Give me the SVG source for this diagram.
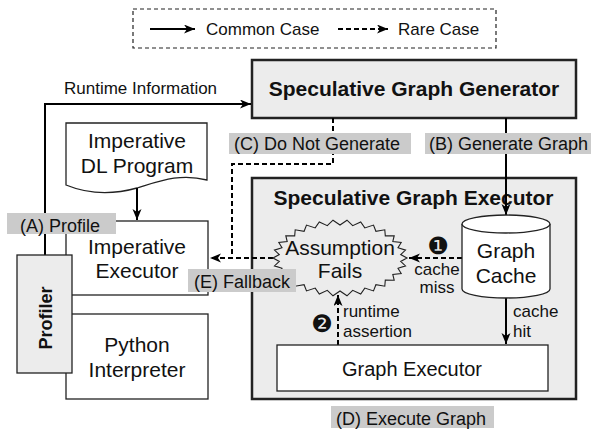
<svg xmlns="http://www.w3.org/2000/svg" width="596" height="430" viewBox="0 0 596 430">
<defs>
<marker id="ah" markerUnits="userSpaceOnUse" markerWidth="12" markerHeight="10" refX="11" refY="4.5" orient="auto">
<path d="M0,0 L11,4.5 L0,9 L3,4.5 Z" fill="#000"/>
</marker>
</defs>
<style>
text{font-family:"Liberation Sans",Arial,Helvetica,sans-serif;fill:#111}
.t21{font-size:21px}
.t20{font-size:20px}
.t18{font-size:18px}
.t17{font-size:17px}
.b{font-weight:bold}
.mid{text-anchor:middle}
.box{fill:#fff;stroke:#222;stroke-width:1.3}
.cont{fill:#ececec;stroke:#222;stroke-width:2.5}
.lbl{fill:#cbcbcb}
.solid{fill:none;stroke:#000;stroke-width:2}
.dash{fill:none;stroke:#000;stroke-width:2;stroke-dasharray:5,3}
.dig{font-family:"DejaVu Sans",sans-serif;font-size:24px}
</style>

<g id="legend">
<rect x="133" y="9" width="363" height="39" fill="#fff" stroke="#222" stroke-width="1.2" stroke-dasharray="4,3"/>
<line x1="150" y1="29" x2="195" y2="29" class="solid" marker-end="url(#ah)"/>
<text x="206" y="35" class="t17">Common Case</text>
<line x1="338" y1="29" x2="388" y2="29" class="dash" marker-end="url(#ah)"/>
<text x="398" y="35" class="t17">Rare Case</text>
</g>

<g id="generator">
<rect x="252" y="60" width="324" height="58" class="cont"/>
<text x="414" y="96" class="t21 b mid">Speculative Graph Generator</text>
</g>

<g id="spec-executor">
<rect x="252" y="178" width="324" height="221" class="cont"/>
<text x="413.5" y="205" class="t21 b mid">Speculative Graph Executor</text>
</g>

<g id="dl-program">
<path d="M66,123 H207 V180 C180,173 160,181 137,188 C112,195 88,194 66,185 Z" class="box"/>
<text x="137" y="148" class="t21 mid">Imperative</text>
<text x="137" y="173" class="t21 mid">DL Program</text>
</g>

<g id="imperative-executor">
<rect x="66" y="221" width="142" height="74" class="box"/>
<text x="137" y="254" class="t21 mid">Imperative</text>
<text x="137" y="278" class="t21 mid">Executor</text>
</g>

<g id="python-interpreter">
<rect x="66" y="314" width="142" height="85" class="box"/>
<text x="137" y="352" class="t21 mid">Python</text>
<text x="137" y="377" class="t21 mid">Interpreter</text>
</g>

<g id="connectors">
<polyline points="45,255 45,104 251,104" class="solid" marker-end="url(#ah)"/>
<line x1="137" y1="188" x2="137" y2="220" class="solid" marker-end="url(#ah)"/>
<polyline points="333,118 333,164 232,164 232,258 210,258" class="dash" marker-end="url(#ah)"/>
<line x1="273" y1="258" x2="232" y2="258" class="dash"/>
<line x1="506" y1="118" x2="506" y2="215" class="solid" marker-end="url(#ah)"/>
<line x1="462" y1="258" x2="409" y2="258" class="dash" marker-end="url(#ah)"/>
<line x1="506" y1="298" x2="506" y2="344" class="solid" marker-end="url(#ah)"/>
<line x1="338" y1="345" x2="338" y2="295" class="dash" marker-end="url(#ah)"/>
</g>

<g id="profiler">
<rect x="17" y="255" width="55" height="118" fill="#ececec" stroke="#222" stroke-width="1.3"/>
<text transform="translate(51.5,318) rotate(-90)" class="t18 b mid">Profiler</text>
</g>

<g id="assumption-fails">
<polygon fill="#ececec" stroke="#222" stroke-width="1.1" points="407,258 400.7,254.6 405.5,250.1 398,247.8 401.2,242.5 392.8,241.5 394.2,235.7 385.3,235.9 384.8,229.8 375.9,231.3 373.5,225.1 364.8,227.9 360.7,221.9 352.7,225.7 347,220.2 340,225 333,220.2 327.3,225.7 319.3,221.9 315.2,227.9 306.5,225.1 304.1,231.3 295.2,229.8 294.7,235.9 285.8,235.7 287.2,241.5 278.8,242.5 282,247.8 274.5,250.1 279.3,254.6 273,258 279.3,261.4 274.5,265.9 282,268.2 278.8,273.5 287.2,274.5 285.8,280.3 294.7,280.1 295.2,286.2 304.1,284.7 306.5,290.9 315.2,288.1 319.3,294.1 327.3,290.3 333,295.8 340,291 347,295.8 352.7,290.3 360.7,294.1 364.8,288.1 373.5,290.9 375.9,284.7 384.8,286.2 385.3,280.1 394.2,280.3 392.8,274.5 401.2,273.5 398,268.2 405.5,265.9 400.7,261.4"/>
<text x="340" y="255" class="t21 mid">Assumption</text>
<text x="340" y="278" class="t21 mid">Fails</text>
</g>

<g id="graph-cache">
<path d="M462,224 V289 A44,9 0 0 0 550,289 V224" fill="#fff" stroke="#222" stroke-width="1.3"/>
<ellipse cx="506" cy="224" rx="44" ry="9" fill="#fff" stroke="#222" stroke-width="1.3"/>
<text x="506" y="258" class="t21 mid">Graph</text>
<text x="506" y="283" class="t21 mid">Cache</text>
</g>

<g id="graph-executor">
<rect x="277" y="345" width="271" height="46" class="box"/>
<text x="412" y="376" class="t20 mid">Graph Executor</text>
</g>

<g id="labels">
<rect x="229" y="133" width="182" height="21" class="lbl"/>
<text x="234" y="150" class="t18">(C) Do Not Generate</text>
<rect x="425" y="133" width="166" height="21" class="lbl"/>
<text x="429" y="150" class="t18">(B) Generate Graph</text>
<rect x="7" y="213" width="109" height="21" class="lbl"/>
<text x="20" y="232" class="t18">(A) Profile</text>
<rect x="188" y="269" width="108" height="23" class="lbl"/>
<text x="194" y="288" class="t18">(E) Fallback</text>
<rect x="331" y="406" width="163" height="22" class="lbl"/>
<text x="336" y="425" class="t18">(D) Execute Graph</text>
<text x="64" y="94" class="t17">Runtime Information</text>
<text x="438" y="254" class="dig mid">❶</text>
<text x="437" y="275" class="t17 mid">cache</text>
<text x="437" y="293" class="t17 mid">miss</text>
<text x="513" y="317" class="t17">cache</text>
<text x="513" y="337" class="t17">hit</text>
<text x="343" y="317" class="t17">runtime</text>
<text x="343" y="337" class="t17">assertion</text>
<text x="322" y="332" class="dig mid">❷</text>
</g>
</svg>
